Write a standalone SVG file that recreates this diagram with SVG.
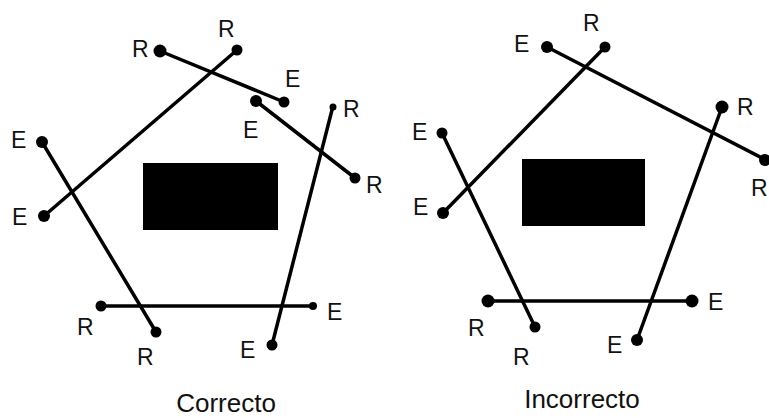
<svg xmlns="http://www.w3.org/2000/svg" width="769" height="418" viewBox="0 0 769 418">
<style>
.seg{stroke:#000;stroke-width:3.5;stroke-linecap:round;fill:none}
.dot{fill:#000}
.lbl{font-family:"Liberation Sans",Arial,sans-serif;font-size:23px;fill:#111}
.cap{font-family:"Liberation Sans",Arial,sans-serif;font-size:26px;fill:#111;text-anchor:middle}
.blk{fill:#000}
</style>
<rect width="769" height="418" fill="#fff"/>
<!-- Left panel: Correcto -->
<g id="left-panel">
  <g id="left-block"><rect class="blk" x="143" y="163" width="135" height="67"/></g>
  <g id="left-connectors">
    <line class="seg" x1="160" y1="51" x2="284" y2="102"/>
    <line class="seg" x1="237" y1="50" x2="44" y2="216"/>
    <line class="seg" x1="256" y1="101" x2="355" y2="178"/>
    <line class="seg" x1="333" y1="106" x2="272" y2="345"/>
    <line class="seg" x1="42" y1="142" x2="156" y2="332"/>
    <line class="seg" x1="101" y1="306" x2="313" y2="306"/>
  </g>
  <g id="left-dots">
    <circle class="dot" cx="160" cy="51" r="6.5"/>
    <circle class="dot" cx="284" cy="102" r="5.5"/>
    <circle class="dot" cx="237" cy="50" r="5.5"/>
    <circle class="dot" cx="44" cy="216" r="6"/>
    <circle class="dot" cx="256" cy="101" r="6"/>
    <circle class="dot" cx="355" cy="178" r="5.5"/>
    <circle class="dot" cx="333" cy="107" r="3.5"/>
    <circle class="dot" cx="272" cy="345" r="5.5"/>
    <circle class="dot" cx="42" cy="142" r="6"/>
    <circle class="dot" cx="156" cy="332" r="5.5"/>
    <circle class="dot" cx="101" cy="306" r="5.5"/>
    <circle class="dot" cx="313" cy="306" r="4"/>
  </g>
  <g id="left-labels">
    <text class="lbl" x="132" y="57">R</text>
    <text class="lbl" x="218" y="37">R</text>
    <text class="lbl" x="285" y="87">E</text>
    <text class="lbl" x="243" y="138">E</text>
    <text class="lbl" x="343" y="117">R</text>
    <text class="lbl" x="366" y="193">R</text>
    <text class="lbl" x="11" y="148">E</text>
    <text class="lbl" x="12" y="225">E</text>
    <text class="lbl" x="77" y="335">R</text>
    <text class="lbl" x="137" y="365">R</text>
    <text class="lbl" x="240" y="358">E</text>
    <text class="lbl" x="327" y="320">E</text>
  </g>
  <text class="cap" x="226" y="412">Correcto</text>
</g>
<!-- Right panel: Incorrecto -->
<g id="right-panel">
  <g id="right-block"><rect class="blk" x="522" y="159" width="123" height="67"/></g>
  <g id="right-connectors">
    <line class="seg" x1="547" y1="47" x2="766" y2="160"/>
    <line class="seg" x1="605" y1="47" x2="443" y2="213"/>
    <line class="seg" x1="442" y1="133" x2="535" y2="327"/>
    <line class="seg" x1="722" y1="107" x2="637" y2="340"/>
    <line class="seg" x1="488" y1="301" x2="692" y2="301"/>
  </g>
  <g id="right-dots">
    <circle class="dot" cx="547" cy="47" r="6"/>
    <circle class="dot" cx="765" cy="160" r="6"/>
    <circle class="dot" cx="605" cy="47" r="5.5"/>
    <circle class="dot" cx="443" cy="213" r="6"/>
    <circle class="dot" cx="442" cy="133" r="5.5"/>
    <circle class="dot" cx="535" cy="327" r="5.5"/>
    <circle class="dot" cx="722" cy="107" r="6.5"/>
    <circle class="dot" cx="637" cy="340" r="6"/>
    <circle class="dot" cx="488" cy="301" r="6.5"/>
    <circle class="dot" cx="692" cy="301" r="6.5"/>
  </g>
  <g id="right-labels">
    <text class="lbl" x="514" y="52">E</text>
    <text class="lbl" x="583" y="31">R</text>
    <text class="lbl" x="737" y="115">R</text>
    <text class="lbl" x="751" y="196">R</text>
    <text class="lbl" x="412" y="140">E</text>
    <text class="lbl" x="413" y="215">E</text>
    <text class="lbl" x="468" y="336">R</text>
    <text class="lbl" x="513" y="365">R</text>
    <text class="lbl" x="607" y="353">E</text>
    <text class="lbl" x="708" y="310">E</text>
  </g>
  <text class="cap" x="582" y="408">Incorrecto</text>
</g>
</svg>
